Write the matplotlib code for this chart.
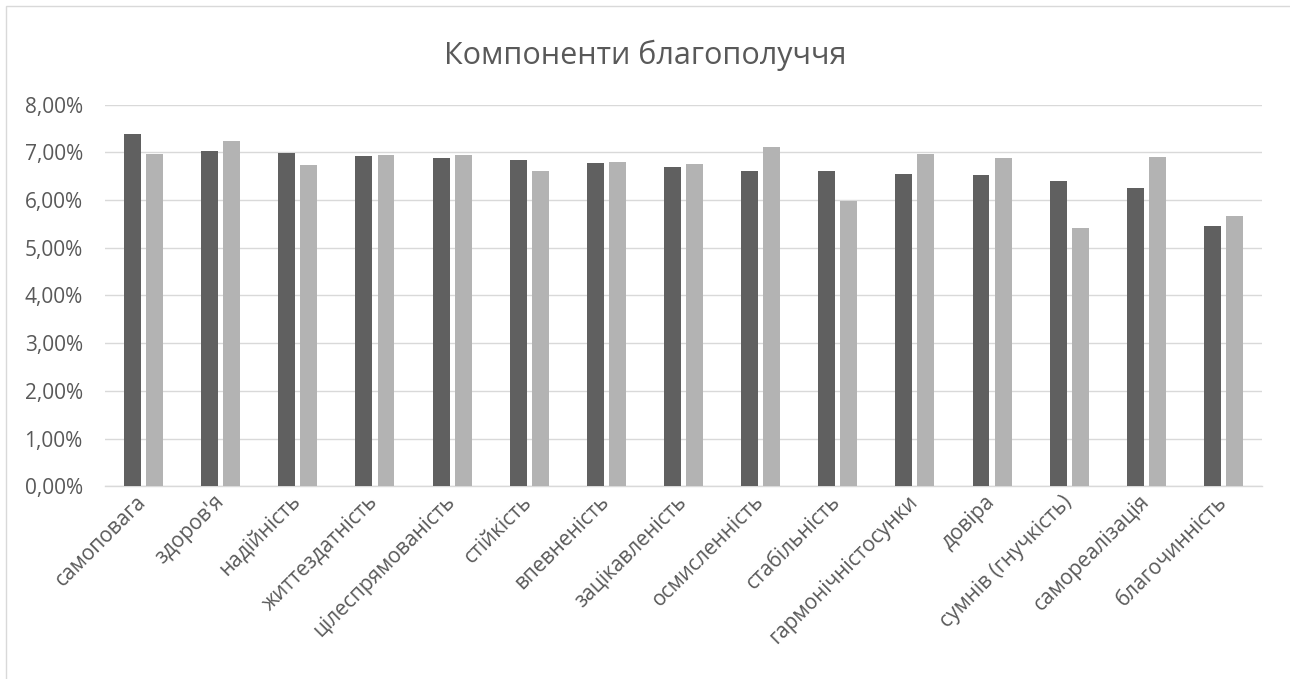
import matplotlib
matplotlib.use("Agg")
import matplotlib.pyplot as plt
from matplotlib.patches import Rectangle
from matplotlib.ticker import FuncFormatter
import numpy as np

plt.rcParams['font.family'] = ['Open Sans', 'DejaVu Sans']

title = "Компоненти благополуччя"
categories = ["самоповага", "здоров'я", "надійність", "життездатність",
              "цілеспрямованість", "стійкість", "впевненість", "зацікавленість",
              "осмисленність", "стабільність", "гармонічністосунки", "довіра",
              "сумнів (гнучкість)", "самореалізація", "благочинність"]
series_dark = [7.39, 7.03, 6.99, 6.93, 6.88, 6.85, 6.78, 6.70,
               6.62, 6.60, 6.55, 6.52, 6.40, 6.25, 5.45]
series_light = [6.96, 7.24, 6.73, 6.94, 6.94, 6.61, 6.79, 6.76,
                7.11, 5.99, 6.96, 6.89, 5.41, 6.91, 5.67]
yticks = [0, 1, 2, 3, 4, 5, 6, 7, 8]

W, H = 1290, 679
fig = plt.figure(figsize=(W / 100, H / 100), dpi=100)
fig.patch.set_facecolor('white')

# chart area border (top and left visible)
fig.patches.append(Rectangle((6 / W, -0.1), 1.2, 1.1 - 6 / H, transform=fig.transFigure,
                             fill=False, edgecolor='#d9d9d9', linewidth=1.0, zorder=0))

ax = fig.add_axes([105 / W, 1 - 486.2 / H, (1262 - 105) / W, (486.2 - 104.7) / H])
x = np.arange(len(categories))
bw = 0.22
off = 0.143
ax.bar(x - off, series_dark, width=bw, color='#606060', zorder=3)
ax.bar(x + off, series_light, width=bw, color='#b3b3b3', zorder=3)

ax.set_xlim(-0.5, len(categories) - 0.5)
ax.set_ylim(0, 8)
ax.set_yticks(yticks)
ax.yaxis.set_major_formatter(FuncFormatter(lambda v, p: f"{v:.2f}".replace('.', ',') + '%'))
ax.grid(axis='y', color='#d9d9d9', linewidth=1.0, zorder=0)
for s in ['top', 'right', 'left']:
    ax.spines[s].set_visible(False)
ax.spines['bottom'].set_color('#d9d9d9')
ax.spines['bottom'].set_linewidth(1.0)
ax.tick_params(axis='both', length=0, colors='#595959', labelsize=15)
ax.tick_params(axis='y', pad=16)
ax.set_xticks(x)
ax.set_xticklabels(categories, rotation=45, ha='right', va='center', rotation_mode='anchor')
ax.tick_params(axis='x', pad=9)

fig.text(0.5, 1 - 55 / H, title, ha='center', va='center', fontsize=22, color='#595959')

fig.savefig('out.png', dpi=100)
